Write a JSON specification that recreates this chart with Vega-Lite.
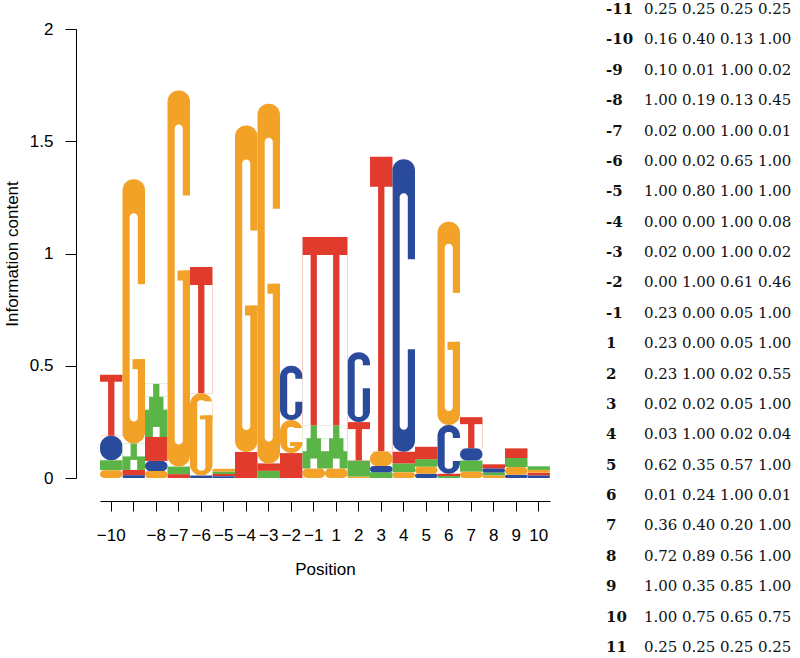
{
  "$schema": "https://vega.github.io/schema/vega-lite/v6.json",
  "usermeta": {"embedOptions": {"actions": false}},
  "background": "white",
  "padding": {"left": 3, "top": 2, "right": 0, "bottom": 0},
  "config": {"view": {"stroke": null}},
  "spacing": 56,
  "datasets": {
    "logo": [
      {"pos": -10, "base": "A", "bits": 0.044}, {"pos": -10, "base": "C", "bits": 0.109}, {"pos": -10, "base": "G", "bits": 0.035}, {"pos": -10, "base": "T", "bits": 0.272},
      {"pos": -9, "base": "A", "bits": 0.118}, {"pos": -9, "base": "C", "bits": 0.012}, {"pos": -9, "base": "G", "bits": 1.177}, {"pos": -9, "base": "T", "bits": 0.024},
      {"pos": -8, "base": "A", "bits": 0.237}, {"pos": -8, "base": "C", "bits": 0.045}, {"pos": -8, "base": "G", "bits": 0.031}, {"pos": -8, "base": "T", "bits": 0.107},
      {"pos": -7, "base": "A", "bits": 0.034}, {"pos": -7, "base": "G", "bits": 1.675}, {"pos": -7, "base": "T", "bits": 0.017},
      {"pos": -6, "base": "C", "bits": 0.011}, {"pos": -6, "base": "G", "bits": 0.366}, {"pos": -6, "base": "T", "bits": 0.563},
      {"pos": -5, "base": "A", "bits": 0.011}, {"pos": -5, "base": "C", "bits": 0.008}, {"pos": -5, "base": "G", "bits": 0.012}, {"pos": -5, "base": "T", "bits": 0.010},
      {"pos": -4, "base": "G", "bits": 1.454}, {"pos": -4, "base": "T", "bits": 0.116},
      {"pos": -3, "base": "A", "bits": 0.032}, {"pos": -3, "base": "G", "bits": 1.602}, {"pos": -3, "base": "T", "bits": 0.033},
      {"pos": -2, "base": "C", "bits": 0.242}, {"pos": -2, "base": "G", "bits": 0.147}, {"pos": -2, "base": "T", "bits": 0.111},
      {"pos": -1, "base": "A", "bits": 0.193}, {"pos": -1, "base": "G", "bits": 0.042}, {"pos": -1, "base": "T", "bits": 0.838},
      {"pos": 1, "base": "A", "bits": 0.193}, {"pos": 1, "base": "G", "bits": 0.042}, {"pos": 1, "base": "T", "bits": 0.838},
      {"pos": 2, "base": "A", "bits": 0.072}, {"pos": 2, "base": "C", "bits": 0.311}, {"pos": 2, "base": "G", "bits": 0.006}, {"pos": 2, "base": "T", "bits": 0.171},
      {"pos": 3, "base": "A", "bits": 0.026}, {"pos": 3, "base": "C", "bits": 0.027}, {"pos": 3, "base": "G", "bits": 0.066}, {"pos": 3, "base": "T", "bits": 1.312},
      {"pos": 4, "base": "A", "bits": 0.039}, {"pos": 4, "base": "C", "bits": 1.303}, {"pos": 4, "base": "G", "bits": 0.026}, {"pos": 4, "base": "T", "bits": 0.052},
      {"pos": 5, "base": "A", "bits": 0.034}, {"pos": 5, "base": "C", "bits": 0.019}, {"pos": 5, "base": "G", "bits": 0.031}, {"pos": 5, "base": "T", "bits": 0.055},
      {"pos": 6, "base": "A", "bits": 0.009}, {"pos": 6, "base": "C", "bits": 0.217}, {"pos": 6, "base": "G", "bits": 0.905}, {"pos": 6, "base": "T", "bits": 0.010},
      {"pos": 7, "base": "A", "bits": 0.050}, {"pos": 7, "base": "C", "bits": 0.055}, {"pos": 7, "base": "G", "bits": 0.028}, {"pos": 7, "base": "T", "bits": 0.138},
      {"pos": 8, "base": "A", "bits": 0.014}, {"pos": 8, "base": "C", "bits": 0.017}, {"pos": 8, "base": "G", "bits": 0.011}, {"pos": 8, "base": "T", "bits": 0.019},
      {"pos": 9, "base": "A", "bits": 0.040}, {"pos": 9, "base": "C", "bits": 0.014}, {"pos": 9, "base": "G", "bits": 0.035}, {"pos": 9, "base": "T", "bits": 0.043},
      {"pos": 10, "base": "A", "bits": 0.016}, {"pos": 10, "base": "C", "bits": 0.011}, {"pos": 10, "base": "G", "bits": 0.013}, {"pos": 10, "base": "T", "bits": 0.012}
    ],
    "table": [
      {"pos": -11, "A": 0.25, "C": 0.25, "G": 0.25, "T": 0.25},
      {"pos": -10, "A": 0.16, "C": 0.40, "G": 0.13, "T": 1.00},
      {"pos": -9, "A": 0.10, "C": 0.01, "G": 1.00, "T": 0.02},
      {"pos": -8, "A": 1.00, "C": 0.19, "G": 0.13, "T": 0.45},
      {"pos": -7, "A": 0.02, "C": 0.00, "G": 1.00, "T": 0.01},
      {"pos": -6, "A": 0.00, "C": 0.02, "G": 0.65, "T": 1.00},
      {"pos": -5, "A": 1.00, "C": 0.80, "G": 1.00, "T": 1.00},
      {"pos": -4, "A": 0.00, "C": 0.00, "G": 1.00, "T": 0.08},
      {"pos": -3, "A": 0.02, "C": 0.00, "G": 1.00, "T": 0.02},
      {"pos": -2, "A": 0.00, "C": 1.00, "G": 0.61, "T": 0.46},
      {"pos": -1, "A": 0.23, "C": 0.00, "G": 0.05, "T": 1.00},
      {"pos": 1, "A": 0.23, "C": 0.00, "G": 0.05, "T": 1.00},
      {"pos": 2, "A": 0.23, "C": 1.00, "G": 0.02, "T": 0.55},
      {"pos": 3, "A": 0.02, "C": 0.02, "G": 0.05, "T": 1.00},
      {"pos": 4, "A": 0.03, "C": 1.00, "G": 0.02, "T": 0.04},
      {"pos": 5, "A": 0.62, "C": 0.35, "G": 0.57, "T": 1.00},
      {"pos": 6, "A": 0.01, "C": 0.24, "G": 1.00, "T": 0.01},
      {"pos": 7, "A": 0.36, "C": 0.40, "G": 0.20, "T": 1.00},
      {"pos": 8, "A": 0.72, "C": 0.89, "G": 0.56, "T": 1.00},
      {"pos": 9, "A": 1.00, "C": 0.35, "G": 0.85, "T": 1.00},
      {"pos": 10, "A": 1.00, "C": 0.75, "G": 0.65, "T": 0.75},
      {"pos": 11, "A": 0.25, "C": 0.25, "G": 0.25, "T": 0.25}
    ]
  },
  "hconcat": [
    {
      "width": 450,
      "height": 449,
      "data": {"name": "logo"},
      "transform": [
        {"stack": "bits", "groupby": ["pos"], "sort": [{"field": "bits", "order": "ascending"}], "as": ["y0", "y1"]}
      ],
      "encoding": {
        "x": {
          "field": "pos", "type": "ordinal", "title": "Position",
          "scale": {"paddingInner": 0, "paddingOuter": 0},
          "axis": {
            "labelExpr": "datum.value == -9 ? '' : (datum.value < 0 ? '\u2212' + abs(datum.value) : '' + datum.value)",
            "labelOverlap": false, "labelAngle": 0, "offset": 23, "tickSize": 10, "labelPadding": 16, "titlePadding": 18,
            "labelFont": "Liberation Sans", "titleFont": "Liberation Sans", "labelFontSize": 17, "titleFontSize": 17,
            "titleFontWeight": "normal", "labelColor": "#000", "titleColor": "#000", "domainColor": "#000", "tickColor": "#000",
            "grid": false
          }
        },
        "y": {
          "field": "y0", "type": "quantitative", "title": "Information content",
          "scale": {"domain": [0, 2], "nice": false},
          "axis": {
            "values": [0, 0.5, 1, 1.5, 2], "labelExpr": "'' + datum.value", "labelFlush": false,
            "offset": 24, "tickSize": 11, "labelPadding": 12, "titlePadding": 8,
            "labelFont": "Liberation Sans", "titleFont": "Liberation Sans", "labelFontSize": 17, "titleFontSize": 17,
            "titleFontWeight": "normal", "labelColor": "#000", "titleColor": "#000", "domainColor": "#000", "tickColor": "#000",
            "grid": false
          }
        },
        "y2": {"field": "y1"}
      },
      "layer": [
        {
          "transform": [{"filter": "datum.base == 'A' || datum.base == 'T'"}],
          "mark": {"type": "bar"},
          "encoding": {"color": {"field": "base", "type": "nominal", "scale": {"domain": ["A", "C", "G", "T"], "range": ["#5BB446", "#2A4B9B", "#F2A227", "#E03B2D"]}, "legend": null}}
        },
        {
          "transform": [{"filter": "datum.base == 'G' || datum.base == 'C'"}],
          "mark": {"type": "bar", "cornerRadius": 11},
          "encoding": {"color": {"field": "base", "type": "nominal", "scale": {"domain": ["A", "C", "G", "T"], "range": ["#5BB446", "#2A4B9B", "#F2A227", "#E03B2D"]}, "legend": null}}
        },
        {
          "transform": [{"filter": "(datum.base == 'G' || datum.base == 'C') && datum.bits >= 1.1"}],
          "mark": {"type": "bar", "color": "white", "width": {"band": 0.36}, "cornerRadius": 4, "yOffset": -22, "y2Offset": 34}
        },
        {
          "transform": [{"filter": "(datum.base == 'G' || datum.base == 'C') && datum.bits >= 0.8 && datum.bits < 1.1"}],
          "mark": {"type": "bar", "color": "white", "width": {"band": 0.36}, "cornerRadius": 4, "yOffset": -14, "y2Offset": 22}
        },
        {
          "transform": [{"filter": "(datum.base == 'G' || datum.base == 'C') && datum.bits >= 0.12 && datum.bits < 0.8"}],
          "mark": {"type": "bar", "color": "white", "width": {"band": 0.36}, "cornerRadius": 3, "yOffset": -5, "y2Offset": 7}
        },
        {
          "transform": [{"filter": "datum.base == 'G' && datum.bits >= 1.1"}],
          "mark": {"type": "bar", "color": "white", "width": {"band": 0.5}, "xOffset": 5.625, "y2Offset": 105, "yOffset": 180},
          "encoding": {"y": {"field": "y1", "type": "quantitative", "title": "Information content", "scale": {"domain": [0, 2], "nice": false}}, "y2": {"field": "y1"}}
        },
        {
          "transform": [{"filter": "datum.base == 'C' && datum.bits >= 1.1"}],
          "mark": {"type": "bar", "color": "white", "width": {"band": 0.5}, "xOffset": 5.625, "y2Offset": 100, "yOffset": 190},
          "encoding": {"y": {"field": "y1", "type": "quantitative", "title": "Information content", "scale": {"domain": [0, 2], "nice": false}}, "y2": {"field": "y1"}}
        },
        {
          "transform": [{"filter": "datum.base == 'G' && datum.bits >= 0.8 && datum.bits < 1.1"}],
          "mark": {"type": "bar", "color": "white", "width": {"band": 0.5}, "xOffset": 5.625, "y2Offset": 71, "yOffset": 120},
          "encoding": {"y": {"field": "y1", "type": "quantitative", "title": "Information content", "scale": {"domain": [0, 2], "nice": false}}, "y2": {"field": "y1"}}
        },
        {
          "transform": [{"filter": "datum.base == 'G' && datum.bits >= 0.12 && datum.bits < 0.8"}],
          "mark": {"type": "bar", "color": "white", "width": {"band": 0.5}, "xOffset": 5.625, "y2Offset": 8, "yOffset": 22},
          "encoding": {"y": {"field": "y1", "type": "quantitative", "title": "Information content", "scale": {"domain": [0, 2], "nice": false}}, "y2": {"field": "y1"}}
        },
        {
          "transform": [{"filter": "datum.base == 'C' && datum.bits >= 0.12 && datum.bits < 0.8"}],
          "mark": {"type": "bar", "color": "white", "width": {"band": 0.5}, "xOffset": 5.625, "y2Offset": 13, "yOffset": 36},
          "encoding": {"y": {"field": "y1", "type": "quantitative", "title": "Information content", "scale": {"domain": [0, 2], "nice": false}}, "y2": {"field": "y1"}}
        },
        {
          "transform": [{"filter": "datum.base == 'G' && datum.bits >= 1.1"}],
          "mark": {"type": "bar", "color": "#F2A227", "width": {"band": 0.555}, "xOffset": 5, "y2Offset": 180, "yOffset": 190},
          "encoding": {"y": {"field": "y1", "type": "quantitative", "title": "Information content", "scale": {"domain": [0, 2], "nice": false}}, "y2": {"field": "y1"}}
        },
        {
          "transform": [{"filter": "datum.base == 'G' && datum.bits >= 0.8 && datum.bits < 1.1"}],
          "mark": {"type": "bar", "color": "#F2A227", "width": {"band": 0.555}, "xOffset": 5, "y2Offset": 120, "yOffset": 128},
          "encoding": {"y": {"field": "y1", "type": "quantitative", "title": "Information content", "scale": {"domain": [0, 2], "nice": false}}, "y2": {"field": "y1"}}
        },
        {
          "transform": [{"filter": "datum.base == 'G' && datum.bits >= 0.12 && datum.bits < 0.8"}],
          "mark": {"type": "bar", "color": "#F2A227", "width": {"band": 0.555}, "xOffset": 5, "y2Offset": 22, "yOffset": 26},
          "encoding": {"y": {"field": "y1", "type": "quantitative", "title": "Information content", "scale": {"domain": [0, 2], "nice": false}}, "y2": {"field": "y1"}}
        },
        {
          "transform": [{"filter": "datum.base == 'T' && datum.bits >= 1.1"}],
          "mark": {"type": "bar", "color": "white", "width": {"band": 0.36}, "xOffset": -7.2, "y2Offset": 30}
        },
        {
          "transform": [{"filter": "datum.base == 'T' && datum.bits >= 1.1"}],
          "mark": {"type": "bar", "color": "white", "width": {"band": 0.36}, "xOffset": 7.2, "y2Offset": 30}
        },
        {
          "transform": [{"filter": "datum.base == 'T' && datum.bits >= 0.4 && datum.bits < 1.1"}],
          "mark": {"type": "bar", "color": "white", "width": {"band": 0.36}, "xOffset": -7.2, "y2Offset": 18}
        },
        {
          "transform": [{"filter": "datum.base == 'T' && datum.bits >= 0.4 && datum.bits < 1.1"}],
          "mark": {"type": "bar", "color": "white", "width": {"band": 0.36}, "xOffset": 7.2, "y2Offset": 18}
        },
        {
          "transform": [{"filter": "datum.base == 'T' && datum.bits >= 0.12 && datum.bits < 0.4"}],
          "mark": {"type": "bar", "color": "white", "width": {"band": 0.36}, "xOffset": -7.2, "y2Offset": 7}
        },
        {
          "transform": [{"filter": "datum.base == 'T' && datum.bits >= 0.12 && datum.bits < 0.4"}],
          "mark": {"type": "bar", "color": "white", "width": {"band": 0.36}, "xOffset": 7.2, "y2Offset": 7}
        },
        {
          "transform": [{"filter": "datum.base == 'A' && datum.bits >= 0.1"}],
          "mark": {"type": "bar", "color": "white", "width": {"band": 0.36}, "xOffset": -7.2, "y2Offset": 0, "yOffset": 13},
          "encoding": {"y": {"field": "y1", "type": "quantitative", "title": "Information content", "scale": {"domain": [0, 2], "nice": false}}, "y2": {"field": "y1"}}
        },
        {
          "transform": [{"filter": "datum.base == 'A' && datum.bits >= 0.1"}],
          "mark": {"type": "bar", "color": "white", "width": {"band": 0.36}, "xOffset": 7.2, "y2Offset": 0, "yOffset": 13},
          "encoding": {"y": {"field": "y1", "type": "quantitative", "title": "Information content", "scale": {"domain": [0, 2], "nice": false}}, "y2": {"field": "y1"}}
        },
        {
          "transform": [{"filter": "datum.base == 'A' && datum.bits >= 0.15"}],
          "mark": {"type": "bar", "color": "white", "width": {"band": 0.18}, "xOffset": -9.225, "y2Offset": 13, "yOffset": 26},
          "encoding": {"y": {"field": "y1", "type": "quantitative", "title": "Information content", "scale": {"domain": [0, 2], "nice": false}}, "y2": {"field": "y1"}}
        },
        {
          "transform": [{"filter": "datum.base == 'A' && datum.bits >= 0.15"}],
          "mark": {"type": "bar", "color": "white", "width": {"band": 0.18}, "xOffset": 9.225, "y2Offset": 13, "yOffset": 26},
          "encoding": {"y": {"field": "y1", "type": "quantitative", "title": "Information content", "scale": {"domain": [0, 2], "nice": false}}, "y2": {"field": "y1"}}
        },
        {
          "transform": [{"filter": "datum.base == 'A' && datum.bits >= 0.1"}],
          "mark": {"type": "bar", "color": "white", "width": {"band": 0.3}, "yOffset": 0, "y2Offset": -10},
          "encoding": {"y": {"field": "y0", "type": "quantitative", "title": "Information content", "scale": {"domain": [0, 2], "nice": false}}, "y2": {"field": "y0"}}
        }
      ]
    },
    {
      "width": 152,
      "height": 598,
      "data": {"name": "table"},
      "encoding": {
        "y": {"field": "pos", "type": "ordinal", "scale": {"type": "point", "padding": 0, "range": [-20, 618]}, "axis": null}
      },
      "layer": [
        {
          "mark": {"type": "text", "align": "left", "baseline": "middle", "font": "DejaVu Serif", "fontSize": 15, "fontWeight": "bold", "color": "#111"},
          "encoding": {
            "x": {"datum": "lab", "type": "ordinal", "scale": {"type": "point", "domain": ["lab", "A", "C", "G", "T"], "padding": 0}, "axis": null},
            "text": {"field": "pos", "type": "nominal"}
          }
        },
        {
          "transform": [{"fold": ["A", "C", "G", "T"], "as": ["base", "r"]}],
          "mark": {"type": "text", "align": "left", "baseline": "middle", "font": "DejaVu Serif", "fontSize": 15, "color": "#111"},
          "encoding": {
            "x": {"field": "base", "type": "ordinal", "scale": {"type": "point", "domain": ["lab", "A", "C", "G", "T"], "padding": 0}, "axis": null},
            "text": {"field": "r", "type": "quantitative", "format": ".2f"}
          }
        }
      ]
    }
  ]
}
